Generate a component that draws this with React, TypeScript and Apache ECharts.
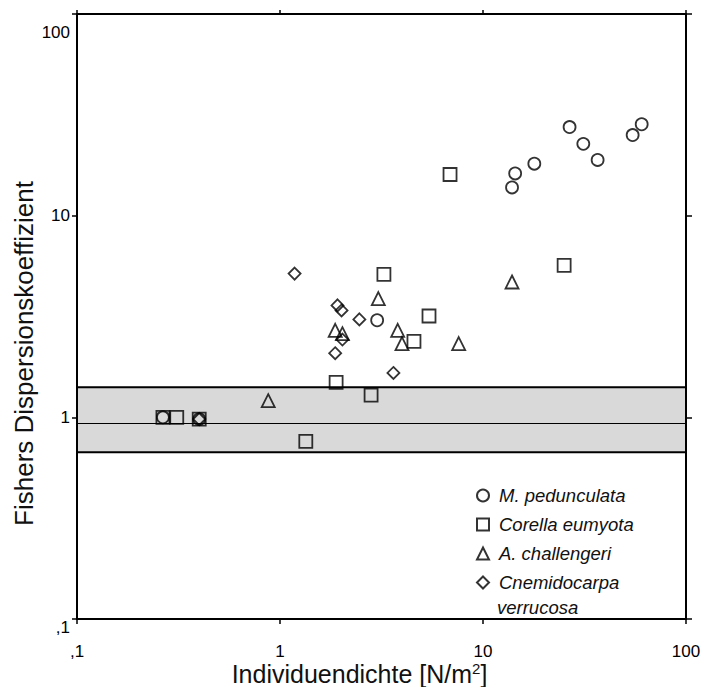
import React, { useEffect, useRef } from "react";
import * as echarts from "echarts";

// M. pedunculata (circles)
const circleX = [0.265, 0.4, 3.01, 13.9, 14.4, 17.9, 26.7, 31.2, 36.7, 54.6, 60.5];
const circleY = [1.0, 0.98, 3.03, 13.8, 16.2, 18.1, 27.5, 22.7, 18.9, 25.1, 28.4];
// Corella eumyota (squares)
const squareX = [0.265, 0.31, 0.4, 1.34, 1.89, 2.81, 3.25, 4.57, 5.42, 6.88, 25.1];
const squareY = [1.0, 1.0, 0.98, 0.76, 1.49, 1.29, 5.12, 2.38, 3.18, 16.0, 5.67];
// A. challengeri (triangles)
const triangleX = [0.875, 1.87, 2.03, 3.05, 3.8, 3.99, 7.59, 13.9];
const triangleY = [1.21, 2.7, 2.6, 3.88, 2.7, 2.32, 2.32, 4.69];
// Cnemidocarpa verrucosa (diamonds)
const diamondX = [0.4, 1.18, 1.92, 2.01, 2.46, 2.03, 1.87, 3.62];
const diamondY = [0.98, 5.16, 3.59, 3.39, 3.06, 2.43, 2.08, 1.66];

// Random-distribution confidence band
const bandUpper = 1.41;
const bandLower = 0.671;
const bandMid = 0.934;

const seriesNames = ["M. pedunculata", "Corella eumyota", "A. challengeri", "Cnemidocarpa verrucosa"];

const FONT = "'Liberation Sans', Arial, Helvetica, sans-serif";

export default function App() {
  const ref = useRef<HTMLDivElement>(null);
  useEffect(() => {
    const chart = echarts.init(ref.current!, null, { renderer: "svg" });
    const pairs = (xs: number[], ys: number[]) => xs.map((v, i) => [v, ys[i]]);
    const markStyle = { color: "transparent", borderColor: "#000", borderWidth: 1.8 };
    const fmt = (v: number) => (v < 0.5 ? ",1" : String(Math.round(v)));
    chart.setOption({
      animation: false,
      backgroundColor: "#fff",
      textStyle: { fontFamily: FONT },
      grid: { left: 77, top: 14, right: 23, bottom: 68, outerBoundsMode: "none", containLabel: false },
      xAxis: [
        {
          type: "log",
          logBase: 10,
          min: 0.1,
          max: 100,
          position: "bottom",
          axisLine: { lineStyle: { color: "#000", width: 2 } },
          axisTick: { length: 5, lineStyle: { color: "#000", width: 1.5 } },
          splitLine: { show: false },
          axisLabel: { margin: 24, fontSize: 17, lineHeight: 17, color: "#000", fontFamily: FONT, formatter: fmt },
          name: "{n|Individuendichte [N/m}{s|2}{n|]}",
          nameLocation: "middle",
          nameGap: 42,
          nameMoveOverlap: false,
          nameTextStyle: {
            padding: [0, 44, 0, 0],
            rich: {
              n: { fontSize: 25, fontFamily: FONT, color: "#111", lineHeight: 25 },
              s: { fontSize: 15, fontFamily: FONT, color: "#111", verticalAlign: "top", lineHeight: 16 },
            },
          },
        },
        {
          type: "log",
          logBase: 10,
          min: 0.1,
          max: 100,
          position: "top",
          axisLine: { lineStyle: { color: "#000", width: 2 } },
          axisTick: { length: 4, lineStyle: { color: "#000", width: 1.5 } },
          splitLine: { show: false },
          axisLabel: { show: false },
        },
      ],
      yAxis: [
        {
          type: "log",
          logBase: 10,
          min: 0.1,
          max: 100,
          position: "left",
          axisLine: { lineStyle: { color: "#000", width: 2 } },
          axisTick: { length: 5, lineStyle: { color: "#000", width: 1.5 } },
          splitLine: { show: false },
          axisLabel: {
            margin: 7,
            fontSize: 17,
            color: "#000",
            fontFamily: FONT,
            formatter: (v: number) => (v > 50 ? "{t|100}" : v < 0.5 ? "{b|,1}" : String(Math.round(v))),
            rich: {
              t: { fontSize: 17, fontFamily: FONT, color: "#000", padding: [36, 0, 0, 0] },
              b: { fontSize: 17, fontFamily: FONT, color: "#000", padding: [16, 0, 0, 0] },
            },
          },
          name: "Fishers Dispersionskoeffizient",
          nameLocation: "middle",
          nameGap: 40,
          nameMoveOverlap: false,
          nameTextStyle: { fontSize: 26, fontFamily: FONT, color: "#111", padding: [0, 74, 0, 0] },
        },
        {
          type: "log",
          logBase: 10,
          min: 0.1,
          max: 100,
          position: "right",
          axisLine: { lineStyle: { color: "#000", width: 2 } },
          axisTick: { length: 6, lineStyle: { color: "#000", width: 1.5 } },
          splitLine: { show: false },
          axisLabel: { show: false },
        },
      ],
      legend: {
        orient: "vertical",
        left: 471,
        top: 481,
        itemWidth: 12,
        itemHeight: 12,
        itemGap: 10,
        data: seriesNames,
        formatter: (n: string) => (n === "Cnemidocarpa verrucosa" ? "Cnemidocarpa" : n),
        textStyle: { fontFamily: FONT, fontStyle: "italic", fontSize: 18.5, color: "#111", padding: [0, 0, 0, 5], lineHeight: 19 },
      },
      graphic: [
        {
          type: "text",
          left: 497,
          top: 598,
          style: { text: "verrucosa", font: `italic 18.5px ${FONT}`, fill: "#111" },
        },
      ],
      series: [
        {
          name: seriesNames[0],
          type: "scatter",
          symbol: "circle",
          symbolSize: 12,
          itemStyle: markStyle,
          data: pairs(circleX, circleY),
          z: 5,
          markArea: {
            silent: true,
            itemStyle: { color: "#d9d9d9", borderColor: "#000", borderWidth: 2 },
            label: { show: false },
            data: [[{ yAxis: bandUpper }, { yAxis: bandLower }]],
          },
          markLine: {
            silent: true,
            symbol: "none",
            label: { show: false },
            lineStyle: { color: "#000", width: 1, type: "solid" },
            data: [{ yAxis: bandMid }],
          },
        },
        {
          name: seriesNames[1],
          type: "scatter",
          symbol: "rect",
          symbolSize: 13,
          itemStyle: markStyle,
          data: pairs(squareX, squareY),
          z: 5,
        },
        {
          name: seriesNames[2],
          type: "scatter",
          symbol: "triangle",
          symbolSize: 13,
          itemStyle: markStyle,
          data: pairs(triangleX, triangleY),
          z: 5,
        },
        {
          name: seriesNames[3],
          type: "scatter",
          symbol: "diamond",
          symbolSize: 12,
          itemStyle: markStyle,
          data: pairs(diamondX, diamondY),
          z: 5,
        },
      ],
    });
    return () => chart.dispose();
  }, []);
  return <div ref={ref} style={{ position: "fixed", left: 0, top: 0, width: 709, height: 687 }} />;
}
